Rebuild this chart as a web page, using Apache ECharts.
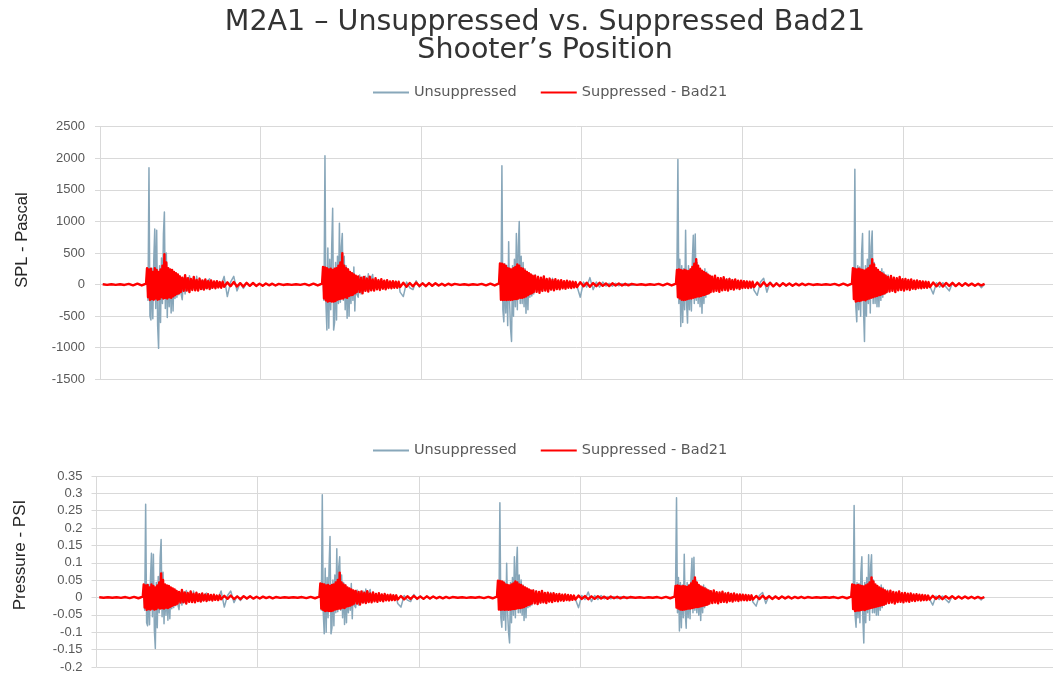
<!DOCTYPE html>
<html><head><meta charset="utf-8">
<script src="https://cdn.jsdelivr.net/npm/echarts@6/dist/echarts.min.js"></script>
<style>html,body{margin:0;padding:0;background:#fff}#c{width:1053px;height:674px}</style>
</head><body><div id="c"></div>
<script>
// ---- data ----
const seriesNames = ['Unsuppressed', 'Suppressed - Bad21'];
const PA_PER_PSI = 6894.76;                // same recording shown in Pascal (top) and PSI (bottom)
const burstOnsets = [29.3, 138.9, 249.1, 359.3, 468.9];   // time units, 100 per vertical gridline
// samples per shot: pre-trigger, attack, decay, tail
const PRE_N = 11, ATTACK_N = 36, DECAY_N = 30, TAIL_N = 17;
const PRE_STEP = 2.7, ATTACK_STEP = 0.6, DECAY_STEP = 0.9, TAIL_STEP = 2.0;

const spl_ticks = [-1500, -1000, -500, 0, 500, 1000, 1500, 2000, 2500];
const psi_ticks = [-0.2, -0.15, -0.1, -0.05, 0, 0.05, 0.1, 0.15, 0.2, 0.25, 0.3, 0.35];

// Unsuppressed, Pascal
const unsupShot1 = [4,-4,5,-4,4,-5,8,-10,12,-12,14,
  180,-250,1850,-500,-560,260,-540,400,880,-380,860,-650,-1010,300,-600,420,-300,800,1150,-380,500,-520,260,-350,240,-450,200,-420,180,-220,160,-200,150,-160,140,-120,
  -240,100,-150,110,-100,140,160,-90,120,-80,130,-70,-90,70,-70,60,-60,50,70,90,-60,-50,40,-40,40,-40,35,-35,60,130,
  -190,40,130,-100,30,-60,25,-25,20,-20,15,-15,12,-12,10,-10,8];
const unsupShot2 = [4,-5,4,-4,5,-4,8,-10,12,-12,14,
  200,-250,2040,-300,-720,580,-690,400,-400,600,1210,-720,-600,350,-560,450,-300,970,-280,600,810,-250,450,-400,300,-535,250,-500,200,-300,180,-250,280,-420,140,-150,
  -200,150,-150,120,-100,130,-90,170,-80,100,160,-80,90,-70,80,-60,70,-60,60,-50,50,-50,45,-40,40,-40,50,-35,35,-120,
  -190,40,-50,-80,60,-40,30,-30,25,-25,20,-20,15,-15,12,-12,10];
const unsupShot3 = [4,-4,5,-5,4,-4,8,-10,12,-12,14,
  250,-200,1880,-400,-590,330,-450,300,-650,680,-300,-700,-900,300,-500,400,-350,810,-400,600,1000,-300,450,-300,350,-350,250,-455,200,-400,180,-200,150,-180,130,-150,
  150,-120,130,-100,90,-110,130,-90,80,-70,90,-80,100,-60,70,-60,60,-50,50,-50,45,-45,40,-40,40,-40,35,-35,30,-30,
  -200,40,-40,110,-80,40,-40,40,-25,20,-25,20,-20,15,-15,12,-10];
const unsupShot4 = [5,-4,4,-5,4,-4,8,-10,12,-12,14,
  200,1980,-300,400,-665,300,-600,250,-400,860,-300,-610,300,-400,250,-420,400,780,-300,800,-250,350,-300,250,-350,200,-455,180,-300,250,-200,200,-150,150,-130,140,
  140,-100,120,-90,110,-90,100,-80,110,-70,90,-70,100,-60,80,-60,70,-50,60,-50,50,-50,45,-40,40,-40,35,-60,30,-90,
  -170,40,100,-120,40,-30,30,-30,25,-25,20,-20,15,-15,12,-12,10];
const unsupShot5 = [4,-5,5,-4,5,-4,8,-10,12,-12,14,
  260,-200,1825,-350,-590,300,-400,280,-500,500,810,-400,-900,300,-500,400,-300,850,-450,600,850,-300,350,-300,250,-350,200,-350,180,-250,250,-200,200,-150,150,-130,
  150,-100,120,-90,110,-80,100,-80,90,-70,80,-60,70,-60,60,-50,60,-50,50,-45,45,-40,40,-40,40,-35,35,-35,30,-30,
  -150,30,-40,30,-40,-100,25,-25,20,-20,15,-20,15,-15,12,-50,10];

// Suppressed - Bad21, Pascal
const suppShot1 = [5,-5,6,-5,5,-6,10,-12,14,-14,16,
  260,-200,240,-245,250,-230,200,-240,260,-220,230,-240,200,-230,240,-200,300,-220,480,-210,350,-220,260,-200,240,-210,230,-190,200,-170,180,-150,160,-140,130,-120,
  110,-100,150,-95,100,-120,90,-85,120,-90,75,-95,95,-70,65,-80,80,-60,55,-70,65,-50,50,-60,55,-45,40,-50,45,-35,
  35,-25,40,-30,22,-32,28,-20,25,-22,15,-20,18,-12,14,-15,10];
const suppShot2 = [5,-6,5,-5,6,-5,10,-12,14,-14,16,
  280,-220,270,-250,260,-270,240,-260,250,-270,230,-270,250,-260,260,-240,300,-230,350,-220,495,-220,300,-200,260,-210,240,-180,200,-170,180,-160,160,-140,140,-120,
  130,-120,110,-140,120,-100,95,-110,125,-90,80,-95,100,-75,70,-85,85,-65,60,-75,70,-55,50,-60,55,-50,45,-50,45,-40,
  30,-35,25,-28,32,-22,20,-26,24,-18,20,-15,12,-16,14,-10,10];
const suppShot3 = [5,-5,6,-6,5,-5,10,-12,14,-14,18,
  335,-240,330,-245,320,-240,300,-245,260,-240,250,-245,240,-240,260,-230,280,-230,320,-220,300,-210,260,-210,250,-200,220,-190,200,-170,180,-150,160,-140,140,-120,
  140,-115,120,-130,110,-100,130,-95,90,-110,95,-80,75,-90,85,-70,65,-75,70,-60,55,-65,60,-50,50,-55,45,-45,40,-40,
  38,-28,30,-34,24,-26,28,-20,18,-24,20,-14,16,-15,12,-12,10];
const suppShot4 = [6,-5,5,-6,5,-5,10,-12,14,-14,16,
  230,-200,240,-220,230,-240,220,-245,230,-240,220,-230,210,-220,240,-220,280,-210,330,-200,400,-190,300,-190,250,-180,220,-170,200,-160,180,-150,160,-140,140,-120,
  125,-110,140,-100,105,-115,100,-90,115,-85,80,-95,90,-70,70,-80,80,-60,60,-70,60,-55,55,-50,50,-55,45,-45,45,-40,
  32,-30,36,-24,26,-28,20,-24,22,-16,18,-18,14,-12,15,-10,10];
const suppShot5 = [5,-6,6,-5,6,-5,10,-12,14,-14,16,
  260,-230,250,-270,240,-260,250,-260,240,-250,230,-240,220,-250,240,-230,260,-220,300,-210,400,-200,320,-190,260,-180,230,-170,200,-160,180,-150,160,-140,140,-120,
  120,-110,135,-100,110,-120,100,-90,120,-85,85,-95,90,-75,75,-85,80,-65,60,-70,65,-55,55,-60,50,-50,45,-50,40,-40,
  34,-28,30,-32,26,-22,28,-24,20,-20,22,-16,15,-18,12,-14,10];

const unsupShots = [unsupShot1, unsupShot2, unsupShot3, unsupShot4, unsupShot5];
const suppShots = [suppShot1, suppShot2, suppShot3, suppShot4, suppShot5];

// ---- build [time, value] pairs ----
function sampleTime(onset, j) {
  if (j < PRE_N) return onset - ATTACK_STEP - PRE_STEP * (PRE_N - 1 - j);
  j -= PRE_N;
  if (j < ATTACK_N) return onset + ATTACK_STEP * j;
  const attackEnd = onset + ATTACK_STEP * (ATTACK_N - 1);
  j -= ATTACK_N;
  if (j < DECAY_N) return attackEnd + DECAY_STEP * (j + 1);
  const decayEnd = attackEnd + DECAY_STEP * DECAY_N;
  j -= DECAY_N;
  return decayEnd + TAIL_STEP * (j + 1);
}
function build(shots, scale) {
  const out = [];
  shots.forEach((vals, b) => {
    vals.forEach((v, j) => out.push([+sampleTime(burstOnsets[b], j).toFixed(2), v / scale]));
  });
  return out;
}

const FONT = '"Liberation Sans", Arial, sans-serif';
const WIDE = '"DejaVu Sans", sans-serif';
const gridCol = '#d9d9d9';
const blue = '#88a7ba', red = '#ff0000';

function xAxisCfg(i) {
  return {
    type: 'value', gridIndex: i, min: 0, max: 593.5, interval: 100,
    axisLine: {show: false}, axisTick: {show: false}, axisLabel: {show: false},
    splitLine: {show: true, lineStyle: {color: gridCol, width: 1}}
  };
}
function yAxisCfg(i, ticks, fmt, margin) {
  return {
    type: 'value', gridIndex: i, min: ticks[0], max: ticks[ticks.length - 1],
    interval: +(ticks[1] - ticks[0]).toFixed(4),
    axisLine: {show: false},
    axisTick: {show: true, length: 5, lineStyle: {color: gridCol}},
    axisLabel: {color: '#595959', fontSize: 13, fontFamily: FONT, margin: margin, formatter: fmt},
    splitLine: {show: true, lineStyle: {color: gridCol, width: 1}}
  };
}
function lineSeries(name, data, i, color, w) {
  return {
    name: name, type: 'line', xAxisIndex: i, yAxisIndex: i, data: data,
    showSymbol: false, symbol: 'none', sampling: null, animation: false,
    lineStyle: {color: color, width: w, join: 'round'}, itemStyle: {color: color},
    z: color === red ? 3 : 2
  };
}
function legendCfg(top) {
  return {
    data: seriesNames, left: 368, top: top, icon: 'rect', itemWidth: 36, itemHeight: 2, itemGap: 24,
    textStyle: {color: '#595959', fontSize: 14.5, fontFamily: WIDE}
  };
}

const chart = echarts.init(document.getElementById('c'), null, {renderer: 'canvas'});
chart.setOption({
  backgroundColor: '#ffffff',
  animation: false,
  title: {
    text: 'M2A1 – Unsuppressed vs. Suppressed Bad21\nShooter’s Position',
    left: 540, top: 4, textAlign: 'center',
    textStyle: {fontSize: 28.5, fontWeight: 'normal', color: '#333333', fontFamily: WIDE, lineHeight: 28}
  },
  legend: [legendCfg(80), legendCfg(438)],
  grid: [
    {left: 100, right: 0, top: 126.7, height: 252.6},
    {left: 96.5, right: 0, top: 476, height: 191}
  ],
  xAxis: [xAxisCfg(0), xAxisCfg(1)],
  yAxis: [
    yAxisCfg(0, spl_ticks, v => String(v), 15),
    yAxisCfg(1, psi_ticks, v => String(+v.toFixed(2)), 14)
  ],
  graphic: [
    {type: 'text', x: 22, y: 240, rotation: Math.PI / 2,
     style: {text: 'SPL - Pascal', fontSize: 16.5, fontFamily: FONT, fill: '#262626', align: 'center', verticalAlign: 'middle'}},
    {type: 'text', x: 20, y: 555, rotation: Math.PI / 2,
     style: {text: 'Pressure - PSI', fontSize: 17, fontFamily: FONT, fill: '#262626', align: 'center', verticalAlign: 'middle'}}
  ],
  series: [
    lineSeries(seriesNames[0], build(unsupShots, 1), 0, blue, 1.5),
    lineSeries(seriesNames[1], build(suppShots, 1), 0, red, 2.4),
    lineSeries(seriesNames[0], build(unsupShots, PA_PER_PSI), 1, blue, 1.5),
    lineSeries(seriesNames[1], build(suppShots, PA_PER_PSI), 1, red, 2.4)
  ]
});
</script></body></html>
